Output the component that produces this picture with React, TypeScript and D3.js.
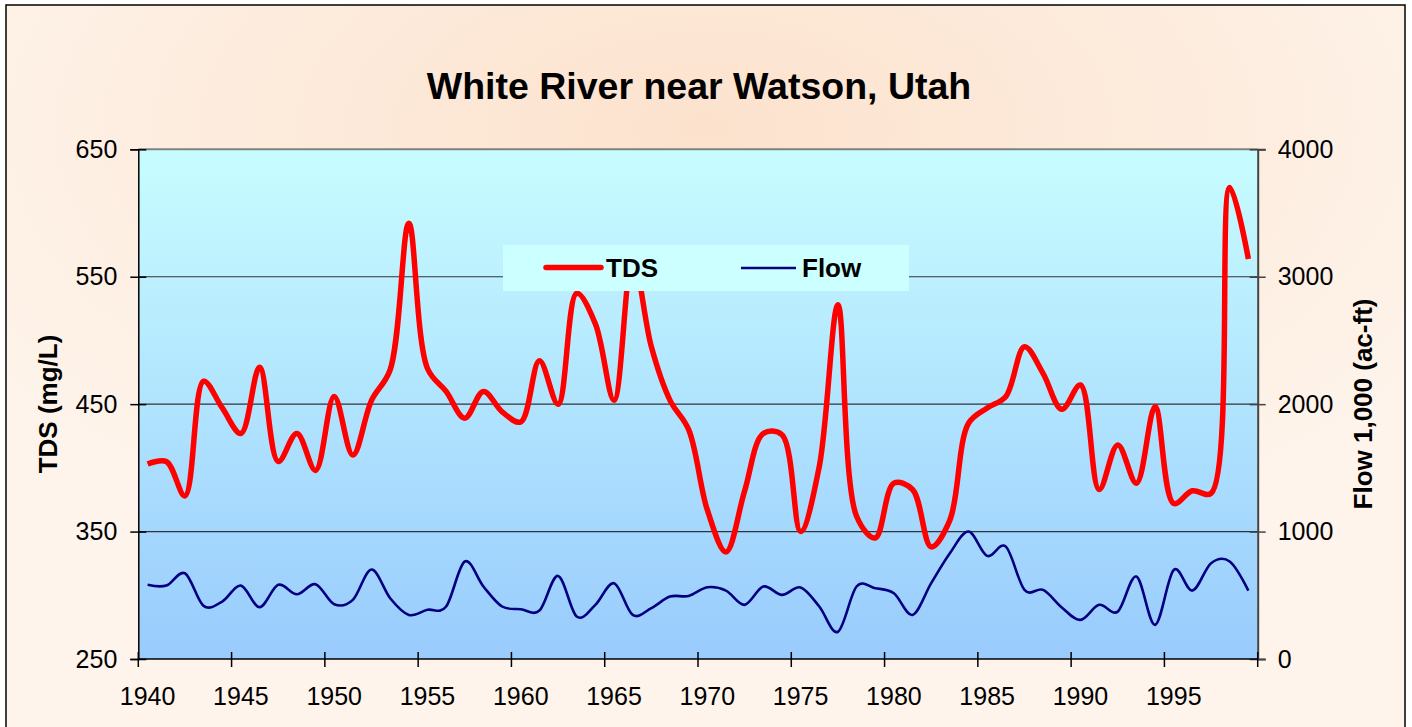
import React, { useRef, useEffect } from "react";
import * as d3 from "d3";

// categories (one per year)
const years = [
  1940, 1941, 1942, 1943, 1944, 1945, 1946, 1947, 1948, 1949,
  1950, 1951, 1952, 1953, 1954, 1955, 1956, 1957, 1958, 1959,
  1960, 1961, 1962, 1963, 1964, 1965, 1966, 1967, 1968, 1969,
  1970, 1971, 1972, 1973, 1974, 1975, 1976, 1977, 1978, 1979,
  1980, 1981, 1982, 1983, 1984, 1985, 1986, 1987, 1988, 1989,
  1990, 1991, 1992, 1993, 1994, 1995, 1996, 1997, 1998, 1999,
];

// TDS (mg/L), left axis
const tds = [
  403, 405, 378, 468, 447, 427, 479, 405, 427, 398,
  456, 410, 453, 477, 592, 478, 460, 439, 460, 444,
  436, 484, 450, 537, 513, 453, 565, 495, 453, 430,
  367, 334, 382, 427, 426, 350, 401, 528, 362, 345,
  388, 383, 338, 359, 435, 447, 456, 495, 474, 446,
  465, 383, 418, 388, 448, 372, 382, 380, 620, 564,
];

// Flow 1,000 (ac-ft), right axis
const flow = [
  582, 576, 673, 417, 451, 576, 407, 582, 508, 587,
  430, 464, 702, 477, 346, 386, 412, 765, 569, 412,
  391, 380, 652, 333, 425, 595, 346, 399, 490, 495,
  563, 537, 425, 569, 503, 561, 412, 214, 569, 555,
  516, 346, 595, 830, 1000, 809, 882, 542, 542, 405,
  307, 425, 372, 647, 268, 699, 537, 752, 765, 537,
];

const tdsTicks = [250, 350, 450, 550, 650];
const flowTicks = [0, 1000, 2000, 3000, 4000];
const yearLabels = [1940, 1945, 1950, 1955, 1960, 1965, 1970, 1975, 1980, 1985, 1990, 1995];

const FONT = "'Liberation Sans', Arial, sans-serif";

export default function App() {
  const ref = useRef<SVGSVGElement | null>(null);

  useEffect(() => {
    const H = 727;
    const left = 138.3, right = 1257.7, top = 149.3, bottom = 659;

    const svg = d3.select(ref.current);
    svg.selectAll("*").remove();

    const defs = svg.append("defs");
    const bg = defs.append("radialGradient").attr("id", "bgGrad")
      .attr("cx", "50%").attr("cy", "17%").attr("r", "62%");
    bg.append("stop").attr("offset", "0%").attr("stop-color", "#fce2cd");
    bg.append("stop").attr("offset", "100%").attr("stop-color", "#fef4eb");

    const plotGrad = defs.append("linearGradient").attr("id", "plotGrad")
      .attr("x1", 0).attr("y1", 0).attr("x2", 0).attr("y2", 1);
    plotGrad.append("stop").attr("offset", "0%").attr("stop-color", "#c8fdff");
    plotGrad.append("stop").attr("offset", "100%").attr("stop-color", "#99cbfd");

    // chart area
    svg.append("rect").attr("x", 6).attr("y", 5).attr("width", 1399).attr("height", H)
      .attr("fill", "url(#bgGrad)").attr("stroke", "#000").attr("stroke-width", 1.5);

    svg.append("text").attr("x", 699).attr("y", 99).attr("text-anchor", "middle")
      .attr("font-family", FONT).attr("font-weight", "bold").attr("font-size", 37.5)
      .text("White River near Watson, Utah");

    const x = d3.scaleBand<number>().domain(years).range([left, right]).padding(0);
    const cx = (yr: number) => (x(yr) as number) + x.bandwidth() / 2;
    const yL = d3.scaleLinear().domain([250, 650]).range([bottom, top]);
    const yR = d3.scaleLinear().domain([0, 4000]).range([bottom, top]);

    svg.append("rect").attr("x", left).attr("y", top)
      .attr("width", right - left).attr("height", bottom - top)
      .attr("fill", "url(#plotGrad)");

    // gridlines
    svg.append("g").selectAll("line").data(tdsTicks.slice(1, -1)).join("line")
      .attr("x1", left).attr("x2", right)
      .attr("y1", (d) => yL(d)).attr("y2", (d) => yL(d))
      .attr("stroke", "#333").attr("stroke-width", 1.2);
    svg.append("line").attr("x1", left).attr("x2", right).attr("y1", top).attr("y2", top)
      .attr("stroke", "#808080").attr("stroke-width", 2);

    // left axis
    const gl = svg.append("g").attr("transform", `translate(${left},0)`)
      .call(d3.axisLeft(yL).tickValues(tdsTicks).tickSize(8).tickPadding(14));
    gl.select(".domain").attr("stroke", "#000").attr("stroke-width", 1.5);
    gl.selectAll(".tick line").attr("x2", 8).attr("x1", -8).attr("stroke", "#000").attr("stroke-width", 1.5);
    gl.selectAll(".tick text").attr("font-family", FONT).attr("font-size", 25).attr("fill", "#000")
      .attr("x", -21);

    // right axis
    const gr = svg.append("g").attr("transform", `translate(${right},0)`)
      .call(d3.axisRight(yR).tickValues(flowTicks).tickSize(8).tickFormat(d3.format("d")));
    gr.select(".domain").attr("stroke", "#444").attr("stroke-width", 2);
    gr.selectAll(".tick line").attr("x1", -8).attr("x2", 8).attr("stroke", "#444").attr("stroke-width", 1.5);
    gr.selectAll(".tick text").attr("font-family", FONT).attr("font-size", 25).attr("fill", "#000")
      .attr("x", 20);

    // bottom axis: tick marks every 5 categories at band edges, labels at band centres
    const gb = svg.append("g").attr("transform", `translate(0,${bottom})`);
    gb.append("line").attr("x1", left).attr("x2", right).attr("stroke", "#000").attr("stroke-width", 1.5);
    const edgeYears = years.filter((yr) => yr % 5 === 0).concat([2000]);
    gb.selectAll("line.tk").data(edgeYears).join("line").attr("class", "tk")
      .attr("x1", (d) => (d === 2000 ? right : (x(d) as number)))
      .attr("x2", (d) => (d === 2000 ? right : (x(d) as number)))
      .attr("y1", -7).attr("y2", 8).attr("stroke", "#000").attr("stroke-width", 1.5);
    gb.selectAll("text").data(yearLabels).join("text")
      .attr("x", (d) => cx(d)).attr("y", 46).attr("text-anchor", "middle")
      .attr("font-family", FONT).attr("font-size", 25).text((d) => d);

    // axis titles
    svg.append("text").attr("transform", `translate(57,404) rotate(-90)`)
      .attr("text-anchor", "middle").attr("font-family", FONT).attr("font-weight", "bold")
      .attr("font-size", 26).text("TDS (mg/L)");
    svg.append("text").attr("transform", `translate(1372,404) rotate(-90)`)
      .attr("text-anchor", "middle").attr("font-family", FONT).attr("font-weight", "bold")
      .attr("font-size", 26).text("Flow 1,000 (ac-ft)");

    // series (smoothed lines)
    const tdsLine = d3.line<number>().x((_, i) => cx(years[i])).y((d) => yL(d))
      .curve(d3.curveCatmullRom.alpha(0.5));
    const flowLine = d3.line<number>().x((_, i) => cx(years[i])).y((d) => yR(d))
      .curve(d3.curveCatmullRom.alpha(0));

    svg.append("path").datum(flow).attr("d", flowLine).attr("fill", "none")
      .attr("stroke", "#000080").attr("stroke-width", 2.6);
    svg.append("path").datum(tds).attr("d", tdsLine).attr("fill", "none")
      .attr("stroke", "#ff0000").attr("stroke-width", 5.5).attr("stroke-linejoin", "round");

    // legend
    const lg = svg.append("g");
    lg.append("rect").attr("x", 503).attr("y", 245).attr("width", 406).attr("height", 46)
      .attr("fill", "#ccffff");
    lg.append("line").attr("x1", 546).attr("x2", 601).attr("y1", 267.5).attr("y2", 267.5)
      .attr("stroke", "#ff0000").attr("stroke-width", 5.5).attr("stroke-linecap", "round");
    lg.append("text").attr("x", 606).attr("y", 277).attr("font-family", FONT)
      .attr("font-weight", "bold").attr("font-size", 26).text("TDS");
    lg.append("line").attr("x1", 741).attr("x2", 796).attr("y1", 268).attr("y2", 268)
      .attr("stroke", "#000080").attr("stroke-width", 2.6);
    lg.append("text").attr("x", 802).attr("y", 277).attr("font-family", FONT)
      .attr("font-weight", "bold").attr("font-size", 26).text("Flow");
  }, []);

  return (
    <svg ref={ref} width={1412} height={727}
      style={{ position: "absolute", left: 0, top: 0, background: "#fff" }} />
  );
}
